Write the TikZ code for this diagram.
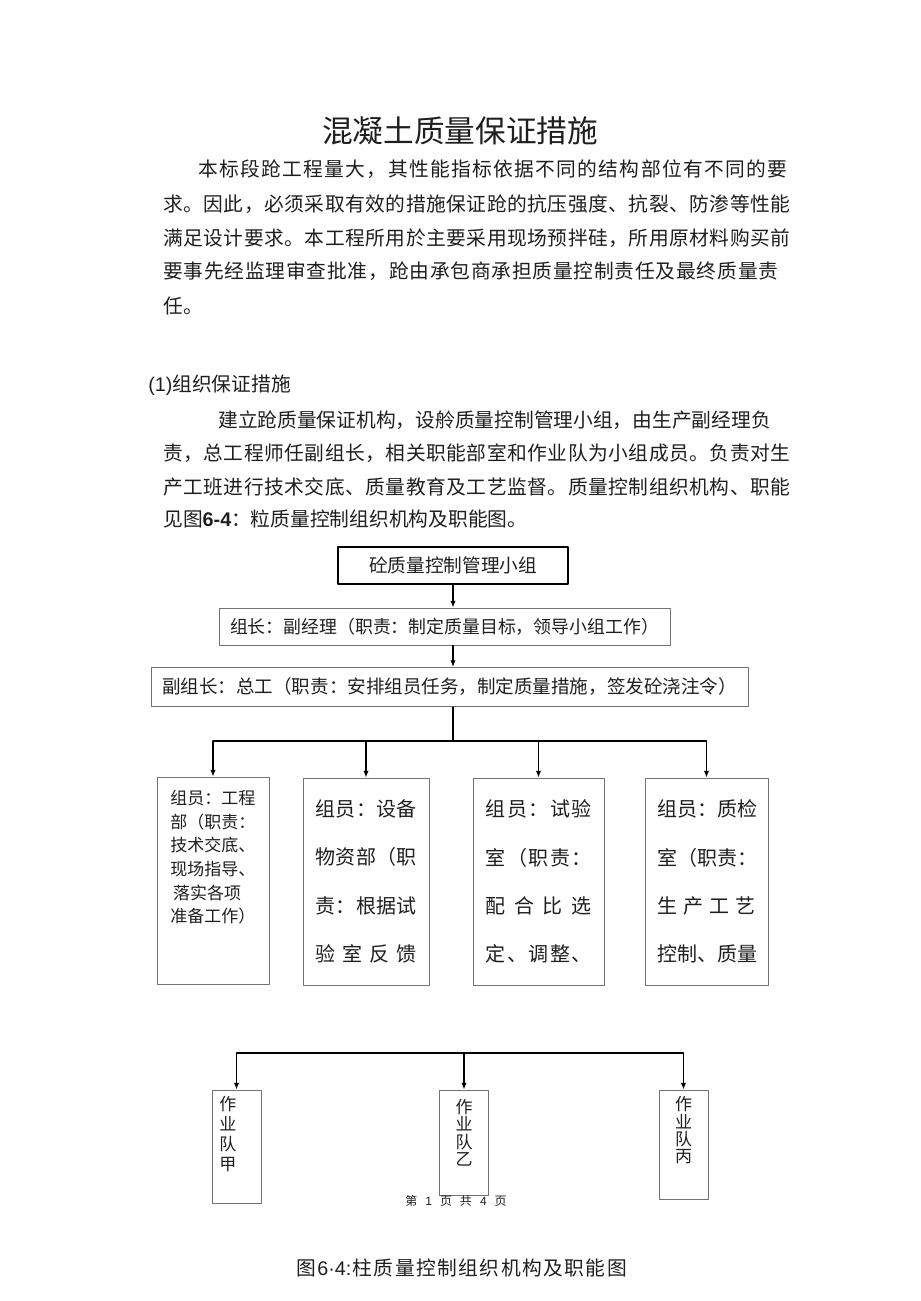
\documentclass[tikz,border=0pt]{standalone}
\usepackage{fontspec}
\setmainfont{Noto Sans CJK SC}
\newfontfamily\qclatin{Liberation Sans}
\usepackage{xcolor}
\usetikzlibrary{arrows.meta,positioning}
\definecolor{qcgray}{gray}{0.45}
\definecolor{qcink}{gray}{0.12}
% spread the characters of one line over a given width
\def\qcfirst#1{#1\qcrest}
\def\qcrest#1{\ifx#1\qcend\else\hfil#1\expandafter\qcrest\fi}
\newcommand{\qcfill}[2]{\makebox[#1][s]{\qcfirst#2\qcend}}
\newcommand{\qcfignum}{{\qclatin 6·4:}}
\tikzset{
  every picture/.append style={line cap=round,line join=round},
  qc title/.style={inner sep=0pt,text=qcink,font=\fontsize{23}{26}\selectfont},
  qc body/.style={inner sep=0pt,anchor=west,text=qcink,font=\fontsize{14.8}{18}\selectfont},
  qc head/.style={draw=black,line width=0.9pt,inner sep=0pt,text=qcink,font=\fontsize{14}{16}\selectfont},
  qc box/.style={draw=qcgray,line width=0.75pt,inner sep=0pt,text=qcink,font=\fontsize{13.9}{16}\selectfont},
  qc member/.style={qc box,minimum height=155.25pt,font=\fontsize{15}{36.2}\selectfont,align=left},
  qc team/.style={qc box,minimum width=36.75pt,font=\fontsize{12.75}{13}\selectfont},
  qc arrow/.style={line width=0.9pt,-{Latex[length=5pt,width=4pt]}},
  qc line/.style={line width=0.9pt},
  qc note/.style={inner sep=0pt,text=qcink,font=\fontsize{9}{11}\selectfont}
}

\begin{document}
\begin{tikzpicture}[x=0.75pt,y=-0.75pt]
\useasboundingbox (0,0) rectangle (920,1301);
\fill[white] (0,0) rectangle (920,1301);
% heading and text
\node[qc title] (title) at (460,131) {混凝土质量保证措施};
\node[qc body] (introa) at (198,169) {\qcfill{441.75pt}{本标段跄工程量大，其性能指标依据不同的结构部位有不同的要}};
\node[qc body] (introb) at (163,204) {\qcfill{470.25pt}{求。因此，必须采取有效的措施保证跄的抗压强度、抗裂、防渗等性能}};
\node[qc body] (introc) at (163,238) {\qcfill{470.25pt}{满足设计要求。本工程所用於主要采用现场预拌硅，所用原材料购买前}};
\node[qc body] (introd) at (163,271) {\qcfill{461.25pt}{要事先经监理审查批准，跄由承包商承担质量控制责任及最终质量责}};
\node[qc body] (introe) at (163,306) {任。};
\node[qc body] (orghead) at (148,385) {{\qclatin (1)}组织保证措施};
\node[qc body] (orga) at (218,420) {\qcfill{414pt}{建立跄质量保证机构，设舲质量控制管理小组，由生产副经理负}};
\node[qc body] (orgb) at (163,453) {\qcfill{470.25pt}{责，总工程师任副组长，相关职能部室和作业队为小组成员。负责对生}};
\node[qc body] (orgc) at (163,487) {\qcfill{470.25pt}{产工班进行技术交底、质量教育及工艺监督。质量控制组织机构、职能}};
\node[qc body] (orgd) at (163,519) {见图{\qclatin\bfseries 6-4}：粒质量控制组织机构及职能图。};
% chart, upper part
\node[qc head,minimum width=172.5pt,minimum height=27.75pt] (group) at (453,565.5) {砼质量控制管理小组};
\node[qc box,minimum width=338.25pt,minimum height=27.75pt,font=\fontsize{13.4}{16}\selectfont] (leader) at (444.5,626.5) {组长：副经理（职责：制定质量目标，领导小组工作）};
\node[qc box,minimum width=447.75pt,minimum height=29.25pt] (deputy) at (449.5,687) {副组长：总工（职责：安排组员任务，制定质量措施，签发砼浇注令）};
\node[qc member,minimum width=84pt,font=\fontsize{12.75}{17.7}\selectfont] (engdept) at (213,880.5)
  {\parbox[c][155.25pt][t]{64pt}{\vspace{10pt}组员：工程\\部（职责：\\技术交底、\\现场指导、\\\hspace*{2pt}落实各项\\准备工作）}};
\node[qc member,minimum width=94.5pt] (matdept) at (366,881.5)
  {\qcfill{75.75pt}{组员：设备}\\\qcfill{75.75pt}{物资部（职}\\\qcfill{75.75pt}{责：根据试}\\\qcfill{75.75pt}{验室反馈}};
\node[qc member,minimum width=98.25pt] (labdept) at (538.5,881.5)
  {\qcfill{79.5pt}{组员：试验}\\\qcfill{79.5pt}{室（职责：}\\\qcfill{79.5pt}{配合比选}\\\qcfill{79.5pt}{定、调整、}};
\node[qc member,minimum width=92.25pt] (qcdept) at (706.5,881.5)
  {\qcfill{74pt}{组员：质检}\\\qcfill{74pt}{室（职责：}\\\qcfill{74pt}{生产工艺}\\\qcfill{74pt}{控制、质量}};
\coordinate (busA) at (453,741);
\draw[qc arrow] (group.south) -- (group.south |- leader.north);
\draw[qc arrow] (group.south |- leader.south) -- (group.south |- deputy.north);
\draw[qc line] (group.south |- deputy.south) -- (busA);
\draw[qc line] (busA -| engdept.north) -- (busA -| qcdept.north);
\foreach \m in {engdept,matdept,labdept,qcdept}
  \draw[qc arrow] (busA -| \m.north) -- (\m.north);
% chart, lower part
\node[qc team,minimum height=84.75pt,font=\fontsize{12.75}{15}\selectfont] (teama) at (236.5,1146.5)
  {\parbox[c][84.75pt][t]{25.6pt}{\raggedright\vspace{5pt}作\\业\\队\\甲}};
\node[qc team,minimum height=78.75pt] (teamb) at (464,1142.5)
  {\parbox[c][78.75pt][t]{12.75pt}{\centering\vspace{7pt}作\\业\\队\\乙}};
\node[qc team,minimum height=81.75pt] (teamc) at (683.5,1144.5)
  {\parbox[c][81.75pt][t]{12.75pt}{\centering\vspace{5pt}作\\业\\队\\丙}};
\coordinate (busB) at (464,1053);
\draw[qc line] (busB -| teama.north) -- (busB -| teamc.north);
\foreach \t in {teama,teamb,teamc}
  \draw[qc arrow] (busB -| \t.north) -- (\t.north);
\node[qc note] (pagefoot) at (456,1201) {第\hspace{6pt}{\qclatin 1}\hspace{6pt}页\hspace{6pt}共\hspace{6pt}{\qclatin 4}\hspace{6pt}页};
\node[qc body,anchor=center] (caption) at (461.5,1268) {\qcfill{248pt}{图\qcfignum 柱质量控制组织机构及职能图}};
\end{tikzpicture}
\end{document}
